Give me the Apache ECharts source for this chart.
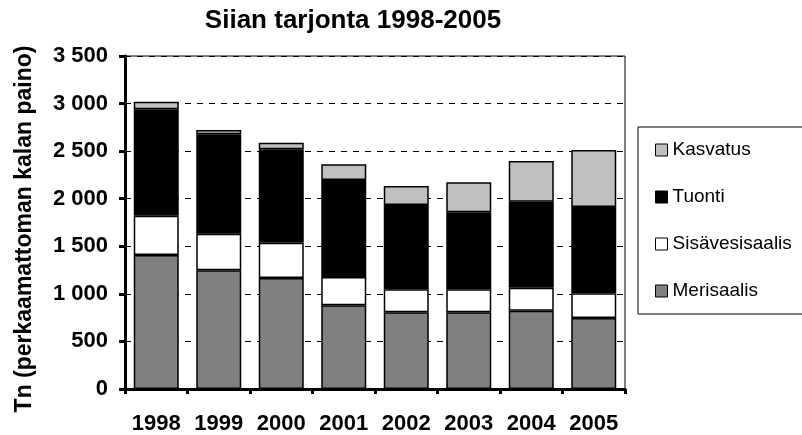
<!DOCTYPE html>
<html>
<head>
<meta charset="utf-8">
<script src="https://cdn.jsdelivr.net/npm/echarts@6/dist/echarts.min.js"></script>
<style>html,body{margin:0;padding:0;background:#fff;}#c{width:802px;height:435px;}</style>
</head>
<body>
<div id="c"></div>
<script>
var categories = ['1998','1999','2000','2001','2002','2003','2004','2005'];
var merisaalis = [1408, 1248, 1167, 880, 806, 806, 823, 746];
var sisavesisaalis = [414, 384, 371, 297, 242, 242, 242, 260];
var tuonti = [1118, 1045, 981, 1020, 886, 809, 904, 907];
var kasvatus = [80, 45, 70, 165, 200, 315, 428, 600];
var yTicks = [0, 500, 1000, 1500, 2000, 2500, 3000, 3500];

var chart = echarts.init(document.getElementById('c'), null, {renderer: 'canvas'});
var font = 'Liberation Sans, Arial, sans-serif';
function mk(name, data, color) {
  return {
    name: name, type: 'bar', stack: 'total', data: data,
    barCategoryGap: '28%',
    itemStyle: {color: color, borderColor: '#000', borderWidth: 1.5},
    emphasis: {disabled: true}
  };
}
chart.setOption({
  animation: false,
  backgroundColor: '#fff',
  title: {
    text: 'Siian tarjonta 1998-2005',
    left: 348, top: 3, textAlign: 'center',
    textStyle: {fontFamily: font, fontWeight: 'bold', fontSize: 26, color: '#000'}
  },
  legend: {
    orient: 'vertical',
    left: 638, top: 127,
    width: 170, height: 194,
    padding: [13, 60, 13, 17],
    itemGap: 27,
    itemWidth: 12, itemHeight: 12,
    borderColor: '#000', borderWidth: 1,
    backgroundColor: '#fff',
    data: [
      {name: 'Kasvatus', icon: 'rect'},
      {name: 'Tuonti', icon: 'rect'},
      {name: 'Sisävesisaalis', icon: 'rect'},
      {name: 'Merisaalis', icon: 'rect'}
    ],
    itemStyle: {borderColor: '#000', borderWidth: 1},
    textStyle: {fontFamily: font, fontSize: 19, lineHeight: 20, color: '#000', padding: [0, 0, 0, 0]},
    selectedMode: false
  },
  grid: {left: 125, top: 56, width: 500, height: 333, show: true, borderColor: '#000', borderWidth: 1},
  xAxis: {
    type: 'category', data: categories,
    axisLine: {lineStyle: {color: '#000', width: 3}},
    axisTick: {show: true, length: 5, lineStyle: {color: '#000', width: 3}},
    axisLabel: {interval: 0, hideOverlap: false, fontFamily: font, fontWeight: 'bold', fontSize: 22, color: '#000', margin: 24}
  },
  yAxis: {
    type: 'value', min: 0, max: 3500, interval: 500,
    name: 'Tn (perkaamattoman kalan paino)',
    nameLocation: 'middle', nameGap: 89, nameRotate: 90,
    nameTextStyle: {fontFamily: font, fontWeight: 'bold', fontSize: 23, color: '#000', padding: [0, 13, 0, 0]},
    axisLine: {show: true, lineStyle: {color: '#000', width: 3}},
    axisTick: {show: true, length: 6, lineStyle: {color: '#000', width: 3}},
    axisLabel: {
      fontFamily: font, fontWeight: 'bold', fontSize: 22, color: '#000', margin: 17,
      formatter: function (v) { return String(v).replace(/\B(?=(\d{3})+(?!\d))/g, ' '); }
    },
    splitLine: {show: true, lineStyle: {color: '#000', width: 1, type: [6, 6]}}
  },
  series: [
    mk('Merisaalis', merisaalis, '#808080'),
    mk('Sisävesisaalis', sisavesisaalis, '#ffffff'),
    mk('Tuonti', tuonti, '#000000'),
    mk('Kasvatus', kasvatus, '#c0c0c0')
  ]
});
</script>
</body>
</html>
